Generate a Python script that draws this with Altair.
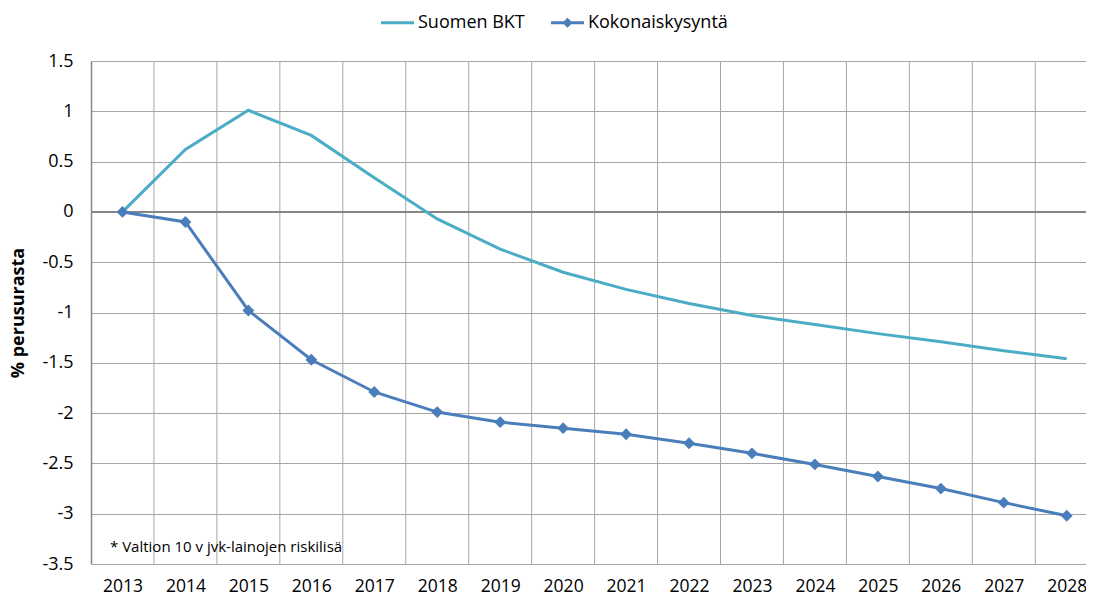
import altair as alt
import pandas as pd

years = list(range(2013, 2029))
gdp = [0, 0.62, 1.01, 0.76, 0.34, -0.07, -0.37, -0.60, -0.77, -0.91, -1.03, -1.12, -1.21, -1.29, -1.38, -1.46]
demand = [0, -0.10, -0.98, -1.47, -1.79, -1.99, -2.09, -2.15, -2.21, -2.30, -2.40, -2.51, -2.63, -2.75, -2.89, -3.02]
series = ["Suomen BKT", "Kokonaiskysyntä"]
colors = ["#4BACC6", "#4A7EBB"]
y_ticks = [-3.5, -3, -2.5, -2, -1.5, -1, -0.5, 0, 0.5, 1, 1.5]
y_title = "% perusurasta"
note = "* Valtion 10 v jvk-lainojen riskilisä"

FONT = "Open Sans"
W, H = 995, 503
STEP = 62.95
x_min = years[0] - 0.5
x_max = x_min + W / STEP

LINE_PATH = "M-1,-0.09H1V0.09H-1Z"
DIAMOND_PATH = LINE_PATH + "M0,-0.31L0.31,0L0,0.31L-0.31,0Z"

df = pd.DataFrame({
    "year": years * 2,
    "value": gdp + demand,
    "series": [series[0]] * len(years) + [series[1]] * len(years),
})
df_gdp = pd.DataFrame({"year": years, "value": gdp})
df_dem = pd.DataFrame({"year": years, "value": demand})
bounds = pd.DataFrame({"year": [y + 0.5 for y in years[:-1]]})

xs = alt.Scale(domain=[x_min, x_max], nice=False, zero=False)
ys = alt.Scale(domain=[y_ticks[0], y_ticks[-1]], nice=False, zero=False)

x_axis = alt.Axis(
    values=years, format="d", grid=False, ticks=False, domain=False,
    labelFont=FONT, labelFontSize=17.5, labelColor="#000000", labelPadding=27,
    labelBaseline="alphabetic", title=None, labelFlush=False, labelOverlap=False)
y_axis = alt.Axis(
    values=y_ticks, labelExpr="'' + datum.value", grid=True, gridColor="#A6A6A6",
    gridWidth=1, ticks=False, domain=True, domainColor="#868686", domainWidth=1.5,
    labelFont=FONT, labelFontSize=18, labelColor="#000000", labelPadding=18,
    title=y_title, titleFont=FONT, titleFontSize=18, titleFontWeight="bold",
    titleColor="#000000", titlePadding=14)

X = lambda f="year:Q": alt.X(f, scale=xs, axis=x_axis)
Y = lambda f="value:Q": alt.Y(f, scale=ys, axis=y_axis)

vgrid = alt.Chart(bounds).mark_rule(color="#A6A6A6", strokeWidth=1).encode(
    x=X(),
    y=alt.datum(y_ticks[-1], scale=ys, axis=y_axis),
    y2=alt.datum(y_ticks[0]),
)

zero = alt.Chart(bounds).mark_rule(color="#868686", strokeWidth=1.5).encode(
    y=alt.datum(0, scale=ys, axis=y_axis),
)

line_gdp = alt.Chart(df_gdp).mark_line(strokeWidth=3, color=colors[0]).encode(x=X(), y=Y())
line_dem = alt.Chart(df_dem).mark_line(strokeWidth=3, color=colors[1]).encode(x=X(), y=Y())

points = alt.Chart(df_dem).mark_point(
    shape="diamond", filled=True, size=140, opacity=1, color=colors[1]
).encode(x=X(), y=Y())

leg = alt.Legend(
    title=None, orient="none", legendX=289, legendY=-56, direction="horizontal",
    symbolSize=1089, labelFont=FONT, labelFontSize=18, labelColor="#000000",
    labelOffset=3, columnPadding=25, labelLimit=300)

legend_layer = alt.Chart(df).mark_point(filled=True, size=0, opacity=1).encode(
    x=X(), y=Y(),
    color=alt.Color("series:N", scale=alt.Scale(domain=series, range=colors), legend=leg),
    shape=alt.Shape("series:N", scale=alt.Scale(domain=series, range=[LINE_PATH, DIAMOND_PATH]),
                    legend=leg),
)

note_layer = alt.Chart(pd.DataFrame({"t": [note]})).mark_text(
    align="left", baseline="middle", font=FONT, fontSize=15, color="#000000"
).encode(
    x=alt.value(19),
    y=alt.datum(-3.33, scale=ys, axis=y_axis),
    text="t:N",
)

chart = alt.layer(vgrid, zero, line_gdp, line_dem, points, legend_layer, note_layer).properties(
    width=W, height=H,
    autosize=alt.AutoSizeParams(type="none"),
    padding={"left": 83, "top": 53, "right": 0, "bottom": 32},
).configure_view(stroke=None).configure(background="white")

chart.save("out.html", embed_options={"renderer": "svg", "actions": False})
